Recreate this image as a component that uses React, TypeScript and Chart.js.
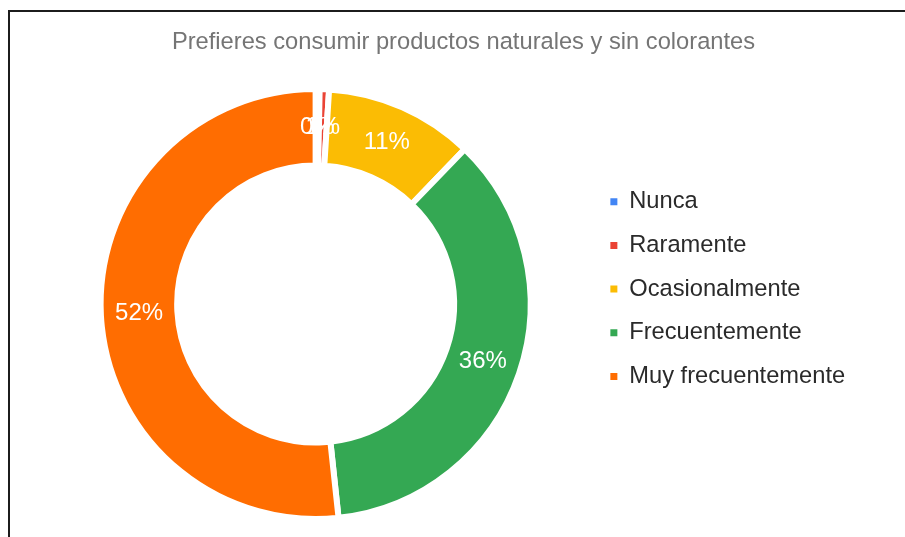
import React, { useEffect, useRef } from "react";
import { Chart, registerables, layouts } from "chart.js";

Chart.register(...registerables);

const chartTitle = "Prefieres consumir productos naturales y sin colorantes";
const categories = ["Nunca", "Raramente", "Ocasionalmente", "Frecuentemente", "Muy frecuentemente"];
const values = [0.3, 0.7, 11.2, 36.1, 51.7];
const colors = ["#4285F4", "#EA4335", "#FBBC04", "#34A853", "#FF6D01"];
const sliceLabels = values.map((v) => Math.round(v) + "%");

const FONT = '"Liberation Sans", Arial, sans-serif';
const SPACER = 31;

const rightSpacer = {
  id: "rightSpacer",
  beforeInit(chart: any) {
    const box: any = {
      position: "right",
      weight: 1500,
      fullSize: false,
      options: { display: false },
      width: 0,
      height: 0,
      left: 0,
      top: 0,
      right: 0,
      bottom: 0,
      isHorizontal() {
        return false;
      },
      update(_maxW: number, maxH: number) {
        this.width = SPACER;
        this.height = maxH;
      },
      draw() {},
    };
    layouts.addBox(chart, box);
  },
};

const sliceLabelPlugin = {
  id: "sliceLabels",
  afterDatasetsDraw(chart: any) {
    const ctx = chart.ctx;
    const meta = chart.getDatasetMeta(0);
    ctx.save();
    ctx.font = `24px ${FONT}`;
    ctx.fillStyle = "#ffffff";
    ctx.textAlign = "center";
    ctx.textBaseline = "middle";
    meta.data.forEach((arc: any, i: number) => {
      if (!values[i]) return;
      const p = arc.tooltipPosition();
      ctx.fillText(sliceLabels[i], p.x, p.y);
    });
    ctx.restore();
  },
};

export default function App() {
  const ref = useRef<HTMLCanvasElement | null>(null);

  useEffect(() => {
    if (!ref.current) return;
    const baseGen = (Chart as any).overrides.doughnut.plugins.legend.labels.generateLabels;
    const chart = new Chart(ref.current, {
      type: "doughnut",
      data: {
        labels: categories,
        datasets: [
          {
            data: values,
            backgroundColor: colors,
            borderColor: "#ffffff",
            borderWidth: 6,
          },
        ],
      },
      options: {
        responsive: false,
        animation: false,
        radius: 215,
        cutout: "64.4%",
        layout: { padding: { left: 40.85, right: 18.85, top: 0, bottom: 0 } },
        plugins: {
          tooltip: { enabled: false },
          title: {
            display: true,
            text: chartTitle,
            color: "#757575",
            font: { family: FONT, size: 23.7, weight: "normal" },
            padding: { top: 27.8, bottom: 14.8 },
          },
          legend: {
            display: true,
            position: "right",
            align: "start",
            title: {
              display: true,
              text: "",
              font: { size: 12 },
              padding: { top: 155.45, bottom: 0 },
            },
            labels: {
              boxWidth: 7,
              boxHeight: 7,
              padding: 20,
              color: "#2a2a2a",
              font: { family: FONT, size: 23.7 },
              generateLabels(chart: any) {
                return baseGen(chart).map((l: any) => ({ ...l, lineWidth: 0, strokeStyle: "rgba(0,0,0,0)" }));
              },
            },
          },
        },
      } as any,
      plugins: [rightSpacer, sliceLabelPlugin],
    });
    return () => chart.destroy();
  }, []);

  return (
    <div style={{ position: "fixed", left: 0, top: 0, width: 905, height: 537, background: "#ffffff" }}>
      <canvas ref={ref} width={905} height={537} style={{ position: "absolute", left: 0, top: 0 }} />
      <div
        style={{
          position: "absolute",
          left: 8,
          top: 10,
          width: 897,
          height: 527,
          borderTop: "2px solid #1c1c1c",
          borderLeft: "2px solid #1c1c1c",
          boxSizing: "border-box",
          pointerEvents: "none",
        }}
      />
    </div>
  );
}
